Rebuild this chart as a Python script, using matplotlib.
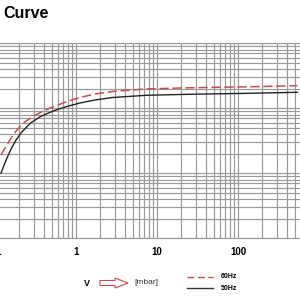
import matplotlib
matplotlib.use("Agg")
import matplotlib.pyplot as plt
from matplotlib.patches import FancyArrow
from matplotlib.lines import Line2D
from matplotlib.ticker import FixedLocator, LogLocator, NullFormatter

plt.rcParams['font.family'] = ['Liberation Sans', 'DejaVu Sans']

title = "Curve"
x_ticks = [0.1, 1, 10, 100]
x_tick_labels = ["0.1", "1", "10", "100"]

# 50 Hz (solid)
p50 = [0.1184, 0.1362, 0.1567, 0.1804, 0.2117, 0.2748, 0.3639, 0.5287, 0.770, 1.119,
       1.705, 2.827, 7.341, 24.56, 132.4, 539.2]
s50 = [10.0, 15.74, 23.24, 31.96, 42.44, 59.39, 74.76, 91.54, 106.6, 120.6,
       134.2, 146.6, 158.5, 164.2, 170.1, 176.3]
# 60 Hz (dashed)
p60 = [0.1184, 0.1362, 0.1567, 0.1804, 0.2117, 0.2526, 0.3015, 0.3849, 0.4819, 0.770,
       1.119, 1.705, 2.827, 7.341, 24.56, 132.4, 539.2]
s60 = [19.12, 25.84, 34.30, 43.97, 55.35, 66.07, 76.10, 89.29, 101.1, 127.2,
       146.6, 166.0, 181.3, 198.2, 206.8, 214.2, 222.7]

fig = plt.figure(figsize=(3, 3), dpi=100)
# axes extend past the figure edges (cropped chart)
ax = fig.add_axes([-5/300, 1 - 238.3/300, 324/300, 195/300])
ax.set_xscale('log')
ax.set_yscale('log')
ax.set_xlim(0.1, 1000)
ax.set_ylim(1, 1000)

grid_c = '#9a9a9a'
ax.xaxis.set_major_locator(FixedLocator(x_ticks))
ax.set_xticklabels(x_tick_labels, fontsize=7, fontweight='bold')
ax.xaxis.set_minor_locator(LogLocator(base=10, subs=range(2, 10)))
ax.xaxis.set_minor_formatter(NullFormatter())
ax.yaxis.set_minor_locator(LogLocator(base=10, subs=range(2, 10)))
ax.yaxis.set_minor_formatter(NullFormatter())
ax.set_yticklabels([])
ax.tick_params(which='both', length=0, pad=6)
ax.grid(True, which='both', color=grid_c, linewidth=0.85)
for s in ax.spines.values():
    s.set_color(grid_c)
    s.set_linewidth(0.85)

red = '#c0504d'
ax.plot(p60, s60, color=red, lw=1.1, dashes=(6, 2.5), zorder=3)
ax.plot(p50, s50, color='#222222', lw=1.0, zorder=3)

fig.text(3/300, 1 - 13/300, title, fontsize=11.5, fontweight='bold', va='center', ha='left')

# bottom annotation
fig.text(87/300, 1 - 284/300, "V", fontsize=6.5, fontweight='bold', ha='center', va='center')
arr = FancyArrow(100/300, 1 - 283/300, 28/300, 0, width=5/300, head_width=10/300,
                 head_length=13/300, length_includes_head=True,
                 facecolor='white', edgecolor=red, linewidth=0.8, transform=fig.transFigure)
fig.patches.append(arr)
fig.text(134/300, 1 - 282/300, "[mbar]", fontsize=6, ha='left', va='center', color='#333333')

fig.add_artist(Line2D([187/300, 213/300], [1 - 277/300, 1 - 277/300], color=red, lw=1.0,
                      dashes=(5, 2.5), transform=fig.transFigure))
fig.add_artist(Line2D([187/300, 213/300], [1 - 287.5/300, 1 - 287.5/300], color='#333333', lw=1.0,
                      transform=fig.transFigure))
fig.text(221/300, 1 - 277/300, "60Hz", fontsize=5, fontweight='bold', ha='left', va='center')
fig.text(221/300, 1 - 288/300, "50Hz", fontsize=5, fontweight='bold', ha='left', va='center')

fig.savefig("out.png", dpi=100)
